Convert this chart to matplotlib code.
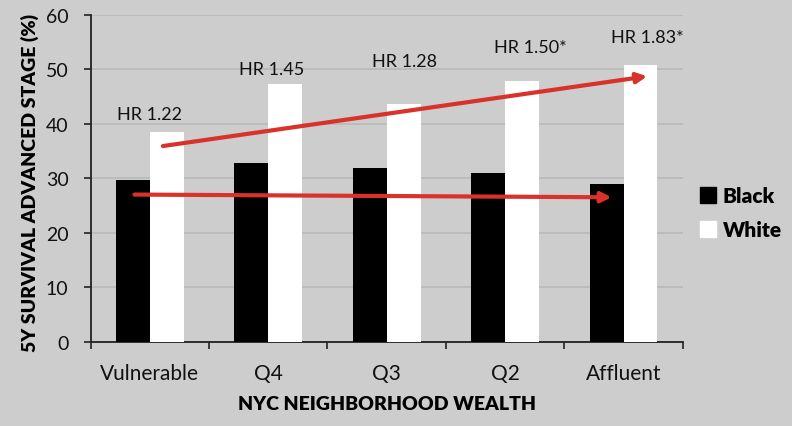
import matplotlib
matplotlib.use("Agg")
import matplotlib.pyplot as plt
import numpy as np
from matplotlib.lines import Line2D

categories = ["Vulnerable", "Q4", "Q3", "Q2", "Affluent"]
black_vals = [29.7, 32.7, 31.9, 31.0, 29.0]
white_vals = [38.4, 47.2, 43.6, 47.9, 50.8]
hr_labels = ["HR 1.22", "HR 1.45", "HR 1.28", "HR 1.50*", "HR 1.83*"]
hr_x = [0.0, 1.03, 2.15, 3.21, 4.20]
hr_y = [41.8, 50.0, 51.5, 54.0, 56.0]
white_trend = [(0.11, 35.9), (4.20, 48.7)]
black_trend = [(-0.13, 27.0), (3.90, 26.5)]

plt.rcParams['font.family'] = ['Lato', 'DejaVu Sans']
bg = '#cdcdcd'
fig = plt.figure(figsize=(7.92, 4.27), dpi=100, facecolor=bg)
ax = fig.add_axes([0.1145, 0.1974, 0.7475, 0.7658])
ax.set_facecolor(bg)

x = np.arange(len(categories))
w = 0.287
ax.bar(x - w/2, black_vals, w, color='black', label='Black', zorder=3)
ax.bar(x + w/2, white_vals, w, color='white', label='White', zorder=3)

ax.set_xlim(-0.5, 4.5)
ax.set_ylim(0, 60)
ax.set_yticks(range(0, 61, 10))
ax.yaxis.grid(True, color='#b9b9b9', linewidth=1.2, zorder=0)
ax.set_axisbelow(True)

ax.set_xticks(x)
ax.set_xticklabels(categories, fontsize=15, color='#111111')
ax.set_xticks(np.arange(-0.5, 4.6, 1), minor=True)
ax.tick_params(axis='x', which='major', length=0, pad=15)
ax.tick_params(axis='x', which='minor', length=5, width=1.2, color='#222222', direction='out')
ax.tick_params(axis='y', length=5, width=1.2, color='#222222', labelsize=14, pad=11,
               labelcolor='#111111')
for s in ['top', 'right']:
    ax.spines[s].set_visible(False)
for s in ['left', 'bottom']:
    ax.spines[s].set_color('#222222')
    ax.spines[s].set_linewidth(1.3)

ax.set_xlabel('NYC NEIGHBORHOOD WEALTH', fontsize=14, fontweight='heavy', labelpad=9)
ax.set_ylabel('5Y SURVIVAL ADVANCED STAGE (%)', fontsize=14, fontweight='heavy', labelpad=7)
ax.yaxis.set_label_coords(-0.087, 0.49)

for lab, hx, hy in zip(hr_labels, hr_x, hr_y):
    ax.text(hx, hy, lab, ha='center', va='center', fontsize=13, color='#111111', zorder=5)

for (x0, y0), (x1, y1) in [white_trend, black_trend]:
    ax.annotate('', xy=(x1, y1), xytext=(x0, y0),
                arrowprops=dict(arrowstyle='-|>,head_length=0.6,head_width=0.3',
                                color='#d8322b', lw=3, shrinkA=0, shrinkB=0),
                zorder=6)

handles = [Line2D([0], [0], marker='s', color='none', markerfacecolor='black', markeredgecolor='black', markersize=12),
           Line2D([0], [0], marker='s', color='none', markerfacecolor='white', markeredgecolor='white', markersize=12)]
leg = fig.legend(handles, ['Black', 'White'], loc='center left', bbox_to_anchor=(0.86, 0.50),
                 frameon=False, prop={'weight': 'heavy', 'size': 15}, handlelength=0.8,
                 handletextpad=0.3, labelspacing=0.7)

fig.savefig('out.png', dpi=100, facecolor=bg)
